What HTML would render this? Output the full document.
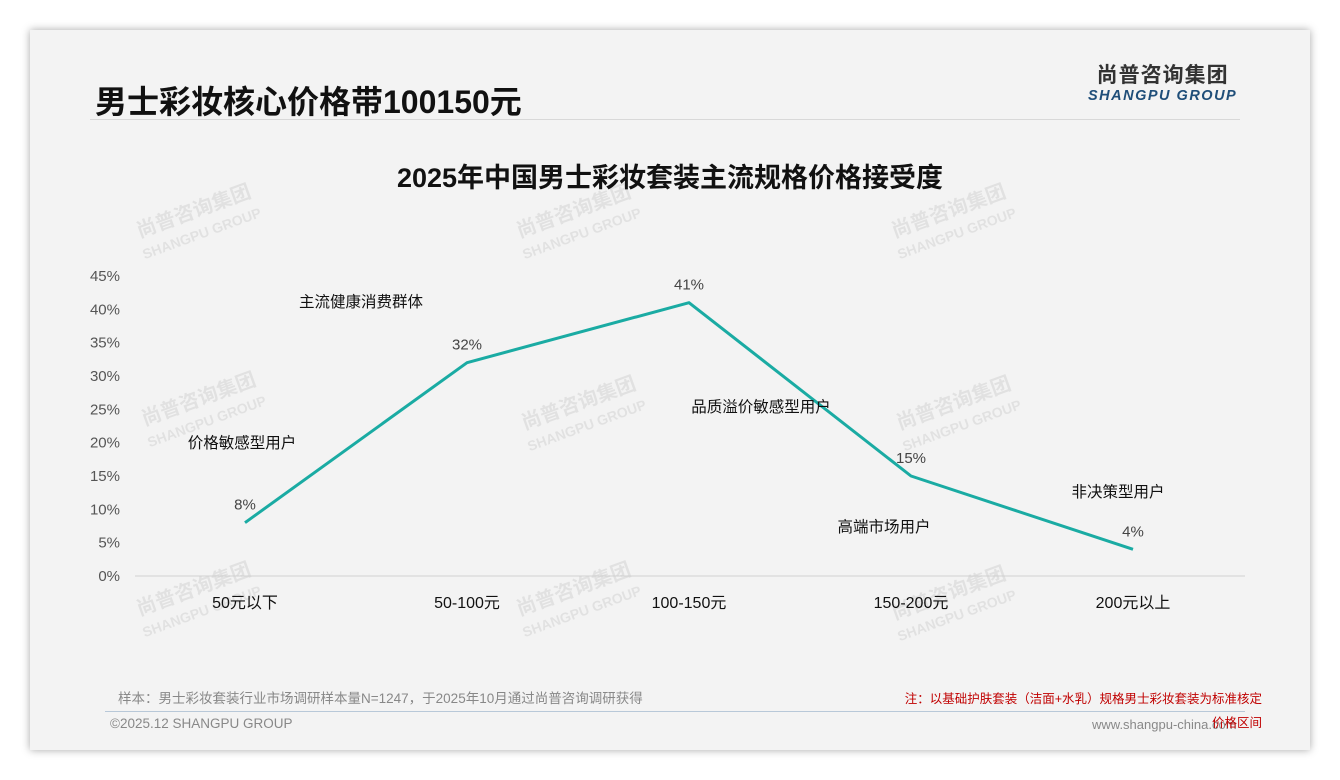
<!DOCTYPE html>
<html><head><meta charset="utf-8"><style>
body{margin:0;width:1340px;height:780px;background:#fff;font-family:"Liberation Sans","Noto Sans CJK SC",sans-serif;position:relative;overflow:hidden}
.card{position:absolute;left:30px;top:30px;width:1280px;height:720px;background:#f3f3f3;box-shadow:0 0 8px rgba(0,0,0,.35)}
.abs{position:absolute;white-space:nowrap}
.wm{position:absolute;color:rgba(0,0,0,.07);transform:rotate(-20deg);font-weight:bold;text-align:center;line-height:1.1}
</style></head><body>
<div class="card">
<div class="abs" style="left:65px;top:47px;font-size:32px;font-weight:bold;color:#111">男士彩妆核心价格带100150元</div>
<div class="abs" style="left:1058px;top:35px;text-align:center;line-height:1">
<div style="font-size:21px;font-weight:bold;color:#333;letter-spacing:1px">尚普咨询集团</div>
<div style="font-size:14.5px;font-weight:bold;font-style:italic;color:#1f4e79;letter-spacing:1.5px;margin-top:3px">SHANGPU GROUP</div></div>
<div class="abs" style="left:60px;top:89px;width:1150px;height:1px;background:#d8d8d8"></div>
<div class="abs" style="left:75px;top:681px;width:1140px;height:1px;background:#b8c8d8"></div>
<div class="abs" style="left:88px;top:657px;font-size:13.5px;color:#888">样本：男士彩妆套装行业市场调研样本量N=1247，于2025年10月通过尚普咨询调研获得</div>
<div class="abs" style="left:80px;top:686px;font-size:13.5px;color:#888">©2025.12 SHANGPU GROUP</div>
<div class="abs" style="left:1062px;top:687px;font-size:13px;color:#888">www.shangpu-china.com</div>
<div class="abs" style="left:830px;top:657px;font-size:12.5px;color:#c00000;line-height:24px;text-align:right;width:402px">注：以基础护肤套装（洁面+水乳）规格男士彩妆套装为标准核定<br>价格区间</div>
</div>
<div class="wm" style="left:135px;top:200px;font-size:20px">尚普咨询集团<br><span style="font-size:14px">SHANGPU GROUP</span></div>
<div class="wm" style="left:515px;top:200px;font-size:20px">尚普咨询集团<br><span style="font-size:14px">SHANGPU GROUP</span></div>
<div class="wm" style="left:890px;top:200px;font-size:20px">尚普咨询集团<br><span style="font-size:14px">SHANGPU GROUP</span></div>
<div class="wm" style="left:140px;top:388px;font-size:20px">尚普咨询集团<br><span style="font-size:14px">SHANGPU GROUP</span></div>
<div class="wm" style="left:520px;top:392px;font-size:20px">尚普咨询集团<br><span style="font-size:14px">SHANGPU GROUP</span></div>
<div class="wm" style="left:895px;top:392px;font-size:20px">尚普咨询集团<br><span style="font-size:14px">SHANGPU GROUP</span></div>
<div class="wm" style="left:135px;top:578px;font-size:20px">尚普咨询集团<br><span style="font-size:14px">SHANGPU GROUP</span></div>
<div class="wm" style="left:515px;top:578px;font-size:20px">尚普咨询集团<br><span style="font-size:14px">SHANGPU GROUP</span></div>
<div class="wm" style="left:890px;top:582px;font-size:20px">尚普咨询集团<br><span style="font-size:14px">SHANGPU GROUP</span></div>
<svg id="chart" width="1340" height="780" style="position:absolute;left:0;top:0">
<text x="670" y="187" text-anchor="middle" font-size="27" font-weight="bold" fill="#111">2025年中国男士彩妆套装主流规格价格接受度</text>
</svg>
<script>
const categories=["50元以下","50-100元","100-150元","150-200元","200元以上"];
const values=[8,32,41,15,4];
const yTicks=[0,5,10,15,20,25,30,35,40,45];
const annotations=["价格敏感型用户","主流健康消费群体","品质溢价敏感型用户","高端市场用户","非决策型用户"];
const annPos=[[242,448],[361,307],[761,412],[884,532],[1118,497]];
const svg=document.getElementById('chart');const NS="http://www.w3.org/2000/svg";
const y=v=>576-v*(300/45);const x=i=>245+i*222;
function mk(t,a,txt){const e=document.createElementNS(NS,t);for(const k in a)e.setAttribute(k,a[k]);if(txt!==undefined)e.textContent=txt;svg.appendChild(e);return e;}
const ax=mk('line',{x1:135,x2:1245,y1:576,y2:576,stroke:'#d0d0d0'});


yTicks.forEach(t=>{const e=mk('text',{x:120,y:y(t)+5,'text-anchor':'end','font-size':15,fill:'#555'},t+'%');

});
categories.forEach((c,i)=>{const e=mk('text',{x:x(i),y:608,'text-anchor':'middle','font-size':16,fill:'#111'},c);

});
const pl=mk('polyline',{points:values.map((v,i)=>x(i)+','+y(v)).join(' '),fill:'none',stroke:'#1aaba3','stroke-width':3,'stroke-linejoin':'round'});


values.forEach((v,i)=>{const e=mk('text',{x:x(i),y:y(v)-13,'text-anchor':'middle','font-size':15,fill:'#444'},v+'%');

});
annotations.forEach((a,i)=>{const e=mk('text',{x:annPos[i][0],y:annPos[i][1],'text-anchor':'middle','font-size':15.5,fill:'#111'},a);

});
</script>
</body></html>
